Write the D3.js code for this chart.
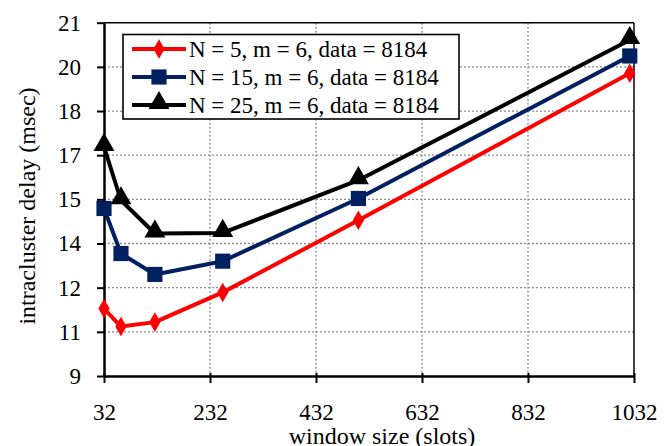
<!DOCTYPE html>
<html><head><meta charset="utf-8">
<script src="https://cdn.jsdelivr.net/npm/d3@7"></script>
<style>body{margin:0;background:#fff}svg{display:block}</style>
</head><body>
<svg id="c" width="672" height="446"></svg>
<script>
const windowSizes = [32, 64, 128, 256, 512, 1024];
const seriesNames = ["N = 5, m = 6, data = 8184", "N = 15, m = 6, data = 8184", "N = 25, m = 6, data = 8184"];
const seriesN5 = [11.29, 10.68, 10.83, 11.84, 14.29, 19.28];
const seriesN15 = [14.69, 13.16, 12.45, 12.9, 15.03, 19.87];
const seriesN25 = [16.78, 14.97, 13.84, 13.86, 15.65, 20.41];
const xTicks = [32, 232, 432, 632, 832, 1032];
const yTicks = [9, 10.5, 12, 13.5, 15, 16.5, 18, 19.5, 21];
const yTickLabels = ["9", "11", "12", "14", "15", "17", "18", "20", "21"];

const colors = ["#ff0000", "#002060", "#000000"];
const shapes = [d3.symbolDiamond, d3.symbolSquare, d3.symbolTriangle];
const sizes = [110, 230, 190];
const series = [seriesN5, seriesN15, seriesN25];

const svg = d3.select("#c");
const L = 104, R = 634, T = 22.7, B = 376;
const x = d3.scaleLinear().domain([32, 1032]).range([L, R]);
const y = d3.scaleLinear().domain([9, 21]).range([B, T]);
const font = "'Liberation Serif', 'Times New Roman', Times, serif";

// grid
svg.append("g").selectAll("line").data(yTicks.filter(v => v > 9 && v < 21)).join("line")
  .attr("x1", L).attr("x2", R).attr("y1", d => y(d)).attr("y2", d => y(d))
  .attr("stroke", "#8c8c8c").attr("stroke-width", 1.3).attr("stroke-dasharray", "2,2");
svg.append("g").selectAll("line").data(xTicks.filter(v => v > 32 && v < 1032)).join("line")
  .attr("y1", T).attr("y2", B).attr("x1", d => x(d)).attr("x2", d => x(d))
  .attr("stroke", "#8c8c8c").attr("stroke-width", 1.3).attr("stroke-dasharray", "2,2");

// border top/right
svg.append("line").attr("x1", L).attr("x2", R).attr("y1", T).attr("y2", T).attr("stroke", "#000").attr("stroke-width", 1.5);
svg.append("line").attr("x1", R).attr("x2", R).attr("y1", T).attr("y2", B).attr("stroke", "#000").attr("stroke-width", 1.5);

// axes
const yAxis = d3.axisLeft(y).tickValues(yTicks).tickFormat((d, i) => yTickLabels[i]).tickSizeInner(7).tickSizeOuter(0).tickPadding(16);
const gy = svg.append("g").attr("transform", `translate(${L},0)`).call(yAxis);
gy.select(".domain").attr("stroke-width", 2.5);
gy.selectAll(".tick line").attr("stroke-width", 2);
gy.selectAll("text").attr("font-family", font).attr("font-size", 23).attr("fill", "#000");

const xAxis = d3.axisBottom(x).tickValues(xTicks).tickFormat(d3.format("d")).tickSizeInner(7).tickSizeOuter(0).tickPadding(21);
const gx = svg.append("g").attr("transform", `translate(0,${B})`).call(xAxis);
gx.select(".domain").attr("stroke-width", 2.5);
gx.selectAll(".tick line").attr("stroke-width", 2).attr("y1", -3);
gx.selectAll("text").attr("font-family", font).attr("font-size", 23).attr("fill", "#000");

// titles
svg.append("text").attr("x", 382).attr("y", 444).attr("text-anchor", "middle")
  .attr("font-family", font).attr("font-size", 24).text("window size (slots)");
svg.append("text").attr("transform", "translate(35,206) rotate(-90)").attr("text-anchor", "middle")
  .attr("font-family", font).attr("font-size", 24).text("intracluster delay (msec)");

// series
const line = d3.line().x((d, i) => x(windowSizes[i])).y(d => y(d));
series.forEach((s, k) => {
  svg.append("path").datum(s).attr("d", line).attr("fill", "none")
    .attr("stroke", colors[k]).attr("stroke-width", 4).attr("stroke-linejoin", "round");
  svg.append("g").selectAll("path").data(s).join("path")
    .attr("transform", (d, i) => `translate(${x(windowSizes[i])},${y(d) + (k === 2 ? -2 : 0)})`)
    .attr("d", d3.symbol().type(shapes[k]).size(sizes[k]))
    .attr("fill", colors[k]);
});

// legend
const lg = svg.append("g");
lg.append("rect").attr("x", 123).attr("y", 34.5).attr("width", 336).attr("height", 84.5)
  .attr("fill", "#fff").attr("stroke", "#000").attr("stroke-width", 1.6);
seriesNames.forEach((n, k) => {
  const yy = 49 + k * 28;
  lg.append("line").attr("x1", 132).attr("x2", 186).attr("y1", yy).attr("y2", yy)
    .attr("stroke", colors[k]).attr("stroke-width", 4);
  lg.append("path").attr("transform", `translate(159,${yy + (k === 2 ? -2 : 0)})`)
    .attr("d", d3.symbol().type(shapes[k]).size(sizes[k])).attr("fill", colors[k]);
  lg.append("text").attr("x", 189).attr("y", yy + 8).attr("font-family", font).attr("font-size", 23).text(n);
});
</script>
</body></html>
